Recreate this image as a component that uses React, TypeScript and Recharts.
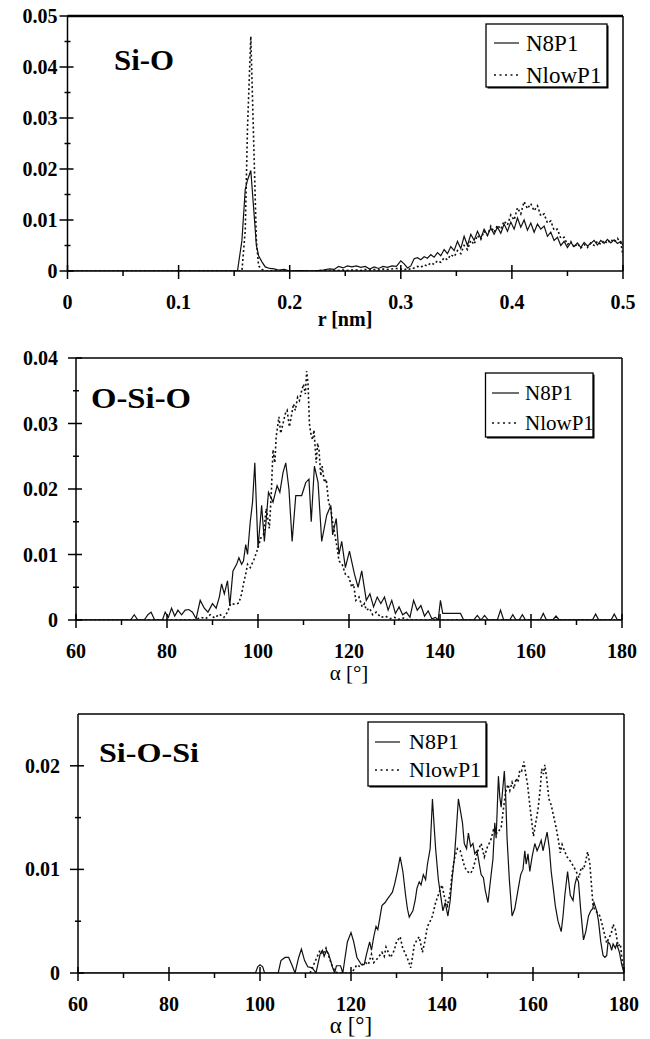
import React from "react";
import { LineChart, Line, XAxis, YAxis, ReferenceLine } from "recharts";

const FONT = '"Liberation Serif"';

// ---------- Si-O (r in nm), both series share the r grid ----------
const SIO_R = [
  0, 0.15, 0.153, 0.157, 0.16, 0.162, 0.165, 0.168, 0.17, 0.172, 0.175, 0.178, 0.182, 0.186, 0.19, 0.195, 0.2,
  0.21, 0.22, 0.23,
  0.236, 0.24, 0.244, 0.248, 0.252, 0.256, 0.26, 0.264, 0.268, 0.272, 0.276, 0.28, 0.284, 0.288, 0.292, 0.296,
  0.3, 0.303, 0.306, 0.309, 0.312, 0.315, 0.318, 0.321, 0.324, 0.327,
  0.33, 0.333, 0.336, 0.339, 0.342, 0.345, 0.348, 0.351, 0.354, 0.357,
  0.36, 0.363, 0.366, 0.369, 0.372, 0.375, 0.378, 0.381, 0.384, 0.387,
  0.39, 0.393, 0.396, 0.399, 0.402, 0.405, 0.408, 0.411, 0.414, 0.417,
  0.42, 0.423, 0.426, 0.429, 0.432, 0.435, 0.438, 0.441, 0.444, 0.447,
  0.45, 0.453, 0.456, 0.459, 0.462, 0.465, 0.468, 0.471, 0.474, 0.477,
  0.48, 0.483, 0.486, 0.489, 0.492, 0.495, 0.498,
  0.5,
];
const SIO_N8P1 = [
  0, 0, 0, 0.006, 0.016, 0.0178, 0.0197, 0.011, 0.005, 0.003, 0.0018, 0.0008, 0.0005, 0.0004, 0.0002, 0.0003, 0,
  0.0001, 0, 0.0002,
  0.0004, 0.0003, 0.0009, 0.0006, 0.001, 0.0008, 0.001, 0.0007, 0.0009, 0.0004, 0.0008, 0.0005, 0.0009, 0.0007, 0.001, 0.0009,
  0.002, 0.0014, 0.0006, 0.001, 0.0024, 0.0026, 0.0022, 0.0028, 0.0025, 0.0032,
  0.0027, 0.0036, 0.003, 0.0042, 0.0034, 0.0048, 0.004, 0.0058, 0.0044, 0.0068,
  0.005, 0.0072, 0.006, 0.0078, 0.0064, 0.0082, 0.007, 0.0084, 0.0072, 0.0086,
  0.0074, 0.0092, 0.0078, 0.0096, 0.0082, 0.0104, 0.0086, 0.01, 0.008, 0.0094,
  0.0076, 0.0092, 0.0082, 0.0088, 0.0068, 0.0076, 0.006, 0.0066, 0.005, 0.0058,
  0.0046, 0.0056, 0.0048, 0.0055, 0.0046, 0.0056, 0.0049, 0.0054, 0.006, 0.0051,
  0.006, 0.0054, 0.0062, 0.0055, 0.0061, 0.0054, 0.0058,
  0.005,
];
const SIO_NLOWP1 = [
  0, 0, 0, 0, 0.008, 0.028, 0.046, 0.022, 0.006, 0.001, 0.0003, 0, 0, 0.0001, 0, 0, 0,
  0, 0, 0.0001,
  0, 0.0001, 0.0001, 0.0002, 0.0001, 0.0002, 0.0002, 0.0001, 0.0003, 0.0002, 0.0003, 0.0002, 0.0004, 0.0003, 0.0004, 0.0005,
  0.0004, 0.0002, 0.0005, 0.0003, 0.0006, 0.0009, 0.0007, 0.0012, 0.001, 0.0016,
  0.0013, 0.002, 0.0017, 0.0026, 0.0022, 0.0032, 0.0028, 0.004, 0.0034, 0.005,
  0.0042, 0.006, 0.0052, 0.007, 0.0062, 0.0078, 0.007, 0.0088, 0.0076, 0.009,
  0.0082, 0.0098, 0.009, 0.011, 0.01, 0.0124, 0.0112, 0.0136, 0.0122, 0.0132,
  0.0118, 0.0128, 0.0108, 0.0112, 0.0094, 0.0098, 0.008, 0.0082, 0.0064, 0.0066,
  0.0052, 0.0058, 0.0046, 0.0054, 0.0045, 0.0052, 0.0046, 0.0055, 0.005, 0.0058,
  0.0052, 0.006, 0.0054, 0.0062, 0.0056, 0.0064, 0.0055,
  0.003,
];
const SIO_X_TICKS = [0, 0.05, 0.1, 0.15, 0.2, 0.25, 0.3, 0.35, 0.4, 0.45, 0.5];
const SIO_Y_TICKS = [0, 0.005, 0.01, 0.015, 0.02, 0.025, 0.03, 0.035, 0.04, 0.045, 0.05];

// ---------- O-Si-O (angle in degrees) ----------
const OSIO_N8P1: [number, number][] = [
  [60, 0], [72, 0], [72.8, 0.0008], [73.6, 0], [75, 0], [75.8, 0.0008], [76.5, 0.0012], [77.3, 0],
  [79, 0], [79.6, 0.0012], [80.3, 0.0004], [81, 0.0018], [81.7, 0.0006], [82.4, 0.0015], [83.2, 0.0008],
  [84, 0.0015], [84.8, 0.0016], [85.6, 0.0012], [86.4, 0.0002], [87.3, 0.003], [88.2, 0.0018], [89, 0.0012],
  [90, 0.0025], [90.8, 0.0018], [91.5, 0.0035], [92, 0.0055], [92.6, 0.004], [93.3, 0.006], [93.8, 0.0022],
  [94.5, 0.0075], [95.3, 0.0085], [95.8, 0.0095], [96.4, 0.0085], [96.8, 0.009], [97.3, 0.0115], [97.7, 0.01],
  [98.3, 0.015], [98.8, 0.018], [99.3, 0.024], [100, 0.011], [100.8, 0.0175], [101.4, 0.012], [102.3, 0.0195],
  [103.3, 0.018], [104.2, 0.0205], [104.8, 0.0195], [105.5, 0.0225], [106.1, 0.024], [106.8, 0.02], [107.5, 0.012],
  [108.3, 0.019], [109.6, 0.019], [110.5, 0.021], [111.2, 0.0215], [111.7, 0.015], [112.4, 0.0235], [113.2, 0.021],
  [114, 0.012], [115.1, 0.016], [116, 0.0175], [116.4, 0.013], [117.2, 0.0155], [117.8, 0.01], [118.4, 0.012],
  [119.2, 0.008], [120.1, 0.0105], [121.2, 0.007], [122, 0.005], [122.8, 0.0075], [123.8, 0.003], [124.6, 0.004],
  [125.4, 0.002], [126.2, 0.0035], [127, 0.0025], [127.8, 0.0035], [128.6, 0.0015], [129.4, 0.003], [130.2, 0.001],
  [131, 0.002], [131.8, 0.0008], [132.6, 0.0012], [133.4, 0.0004], [134.2, 0.003], [135, 0.0015], [135.8, 0.0022],
  [136.6, 0.0006], [137.4, 0.0014], [138.2, 0.0002], [139, 0.0004], [139.6, 0], [140.1, 0.003], [140.6, 0.001],
  [144.5, 0.001], [145.2, 0], [147.4, 0], [148.2, 0.0007], [149, 0], [149.8, 0.0007], [150.6, 0], [152.6, 0],
  [153.3, 0.0015], [154, 0], [155.3, 0], [156, 0.0008], [156.7, 0], [157.4, 0], [158.1, 0.0008], [158.8, 0],
  [162, 0], [162.7, 0.001], [163.4, 0], [164.8, 0], [165.5, 0.0006], [166.2, 0], [173.5, 0], [174.2, 0.0009],
  [174.9, 0], [177.6, 0], [178.3, 0.0009], [179, 0], [180, 0],
];
const OSIO_NLOWP1: [number, number][] = [
  [60, 0], [86, 0], [87.5, 0.0004], [88.5, 0.0002], [89.5, 0.0008], [90.5, 0.0003], [91.5, 0.0009], [92.5, 0.0004],
  [93.3, 0.0012], [94, 0.0025], [95, 0.0024], [95.8, 0.0026], [96.4, 0.004], [96.8, 0.0055], [97.3, 0.007],
  [97.7, 0.0085], [98.3, 0.008], [99.1, 0.0092], [100, 0.011], [100.6, 0.0125], [101.2, 0.013], [101.8, 0.017],
  [102.5, 0.014], [102.9, 0.019], [103.3, 0.026], [103.7, 0.024], [104, 0.028], [104.6, 0.031], [105, 0.0285],
  [105.5, 0.03], [106, 0.0315], [106.4, 0.032], [106.9, 0.0295], [107.3, 0.031], [107.8, 0.033], [108.2, 0.032],
  [108.7, 0.034], [109.1, 0.0335], [109.6, 0.035], [110, 0.036], [110.4, 0.0345], [110.7, 0.038], [111, 0.036],
  [111.3, 0.03], [111.6, 0.0285], [112, 0.0275], [112.3, 0.029], [112.8, 0.024], [113.1, 0.027], [113.4, 0.026],
  [113.8, 0.022], [114.1, 0.0235], [114.6, 0.021], [115, 0.0215], [115.5, 0.018], [116, 0.017], [116.5, 0.0145],
  [116.9, 0.013], [117.4, 0.011], [117.8, 0.009], [118.5, 0.0085], [119.2, 0.007], [120, 0.0065], [120.6, 0.005],
  [121, 0.0055], [121.5, 0.003], [122.2, 0.0035], [122.9, 0.002], [123.4, 0.0025], [123.8, 0.0015], [124.5, 0.0018],
  [125.2, 0.0008], [126, 0.0012], [127, 0.0004], [128, 0.0006], [129, 0.0002], [130, 0.0004], [131, 0.0001],
  [132, 0.0003], [133, 0], [180, 0],
];

// ---------- Si-O-Si (angle in degrees) ----------
const SIOSI_N8P1: [number, number][] = [
  [60, 0], [99, 0], [99.5, 0.0006], [100, 0.0008], [100.6, 0.0006], [101, 0], [104, 0], [104.6, 0.0012],
  [105.5, 0.0015], [106.3, 0.0015], [107, 0.0008], [107.7, 0], [108.5, 0.0015], [109.1, 0.0023], [109.8, 0.0012],
  [110.5, 0.0006], [111.5, 0.0005], [112.3, 0], [113.2, 0.0018], [113.7, 0.0022], [114.1, 0.0016], [114.6, 0.0022],
  [115.1, 0.0018], [115.9, 0.0006], [116.4, 0], [116.8, 0.0007], [117.7, 0.0007], [118.2, 0], [119.2, 0.003],
  [120, 0.0039], [120.6, 0.003], [121.3, 0.0015], [122.3, 0.0008], [122.9, 0.0008], [123.4, 0.0018], [124.1, 0.003],
  [124.5, 0.0022], [125, 0.0035], [125.5, 0.0045], [125.9, 0.0042], [126.8, 0.0065], [127.5, 0.0068], [128.1, 0.0072],
  [128.6, 0.0075], [129.1, 0.0078], [129.6, 0.0086], [130.2, 0.0098], [130.8, 0.0112], [131.4, 0.0098], [132, 0.0075],
  [132.4, 0.0062], [132.8, 0.0054], [133.6, 0.006], [134.1, 0.007], [134.5, 0.0082], [135, 0.0088], [135.4, 0.0085],
  [135.9, 0.0095], [136.4, 0.009], [136.8, 0.0105], [137.4, 0.012], [137.9, 0.0168], [138.3, 0.014], [138.6, 0.012],
  [139.2, 0.009], [139.7, 0.0075], [140.2, 0.006], [140.7, 0.0068], [141.3, 0.0055], [141.8, 0.007], [142.2, 0.009],
  [142.7, 0.011], [143.1, 0.0135], [143.6, 0.0168], [144, 0.0158], [144.5, 0.0145], [144.9, 0.0125], [145.4, 0.012],
  [145.8, 0.0135], [146.3, 0.0122], [146.8, 0.0125], [147.2, 0.0115], [147.7, 0.0118], [148.2, 0.0105],
  [148.6, 0.0095], [149.1, 0.0092], [149.5, 0.008], [150.1, 0.0068], [150.8, 0.0095], [151.2, 0.011],
  [151.6, 0.0145], [151.9, 0.013], [152.4, 0.019], [152.7, 0.017], [153, 0.016], [153.3, 0.0175], [153.7, 0.0195],
  [154, 0.017], [154.3, 0.013], [154.8, 0.009], [155.4, 0.0055], [156, 0.0062], [156.7, 0.008], [157.3, 0.0095],
  [157.8, 0.01], [158.2, 0.0118], [158.5, 0.0105], [158.9, 0.0115], [159.3, 0.0098], [159.8, 0.0112],
  [160.4, 0.0125], [160.9, 0.0118], [161.3, 0.0122], [161.8, 0.0128], [162.2, 0.0118], [162.7, 0.0128],
  [163.1, 0.0136], [163.6, 0.012], [164, 0.0098], [164.5, 0.008], [164.9, 0.0065], [165.5, 0.005], [166.2, 0.004],
  [166.6, 0.0055], [167, 0.0075], [167.6, 0.0098], [168.2, 0.0075], [168.8, 0.007], [169.2, 0.0085],
  [169.6, 0.0092], [170, 0.0088], [170.5, 0.006], [171.1, 0.0032], [171.6, 0.004], [172.2, 0.0055],
  [172.7, 0.006], [173.1, 0.0062], [173.4, 0.0068], [174, 0.006], [174.4, 0.005], [174.9, 0.003], [175.4, 0.0017],
  [175.8, 0.0015], [176.2, 0.0017], [176.5, 0.003], [176.9, 0.0028], [177.3, 0.0022], [177.6, 0.0028],
  [178.1, 0.0024], [178.4, 0.0028], [179, 0.002], [179.5, 0.0008], [180, 0],
];
const SIOSI_NLOWP1: [number, number][] = [
  [111, 0], [111.8, 0.0008], [112.5, 0.0015], [113.2, 0.0022], [113.8, 0.0018], [114.5, 0.0024], [115.2, 0.0015],
  [116, 0.0005], [117, 0], [120, 0], [120.6, 0.0003], [121.3, 0.0008], [122, 0.0006], [122.7, 0.0009],
  [123.2, 0.001], [123.8, 0.0008], [124.5, 0.0018], [125, 0.001], [125.4, 0.0012], [126, 0.0015], [126.8, 0.002],
  [127.3, 0.0016], [127.7, 0.0025], [128.2, 0.002], [128.6, 0.0015], [129.1, 0.0018], [129.5, 0.0022], [130, 0.003],
  [130.8, 0.0035], [131.3, 0.0025], [132, 0.0018], [132.6, 0.0012], [133.1, 0.0005], [133.5, 0.0015],
  [133.9, 0.0027], [134.5, 0.0032], [135, 0.0035], [135.7, 0.002], [136.3, 0.0032], [136.8, 0.0045], [137.4, 0.005],
  [137.9, 0.0055], [138.6, 0.0068], [139.4, 0.0078], [140, 0.0085], [140.6, 0.0072], [141.2, 0.0065],
  [141.8, 0.0078], [142.2, 0.0095], [142.7, 0.011], [143.4, 0.012], [144, 0.0118], [144.5, 0.011], [145, 0.0102],
  [145.6, 0.0098], [146.2, 0.0096], [146.7, 0.0099], [147.3, 0.0108], [147.8, 0.0117], [148.6, 0.0125],
  [149.3, 0.0112], [150, 0.0122], [150.7, 0.0128], [151.3, 0.0138], [152.1, 0.0135], [153, 0.014], [153.4, 0.0155],
  [154, 0.0175], [154.5, 0.0182], [154.9, 0.0176], [155.4, 0.0184], [155.8, 0.0178], [156.3, 0.0188],
  [156.7, 0.0184], [157.1, 0.0196], [157.5, 0.0195], [158, 0.0204], [158.4, 0.0192], [158.8, 0.0182],
  [159.4, 0.0158], [160.1, 0.0132], [160.6, 0.0145], [161.1, 0.0158], [161.6, 0.0178], [161.9, 0.0197],
  [162.3, 0.0192], [162.6, 0.0201], [163, 0.0188], [163.5, 0.0168], [164, 0.0162], [164.5, 0.0152], [165, 0.0142],
  [165.6, 0.0128], [166, 0.0116], [166.4, 0.0124], [166.9, 0.0118], [167.5, 0.0112], [168.2, 0.0108],
  [168.9, 0.0103], [169.5, 0.0098], [170.1, 0.0092], [170.6, 0.0102], [171.1, 0.01], [171.6, 0.0108],
  [172, 0.0117], [172.5, 0.0105], [173.2, 0.0065], [173.7, 0.006], [174.2, 0.0058], [174.7, 0.0055],
  [175.3, 0.0045], [175.8, 0.0036], [176.2, 0.0029], [176.7, 0.0034], [177.2, 0.0038], [177.6, 0.0047],
  [178.1, 0.0042], [178.7, 0.0026], [179.2, 0.0028], [179.6, 0.0012], [180, 0.0003],
];

const ANGLE_TICKS = [60, 70, 80, 90, 100, 110, 120, 130, 140, 150, 160, 170, 180];
const OSIO_Y_TICKS = [0, 0.005, 0.01, 0.015, 0.02, 0.025, 0.03, 0.035, 0.04];
const SIOSI_Y_TICKS = [0, 0.005, 0.01, 0.015, 0.02];

const SERIES = ["N8P1", "NlowP1"];

const toPts = (pairs: [number, number][]) => pairs.map(([x, y]) => ({ x, y }));
const zipPts = (xs: number[], ys: number[]) => xs.map((x, i) => ({ x, y: ys[i] ?? 0 }));

const isMult = (v: number, step: number) => Math.abs(v / step - Math.round(v / step)) < 1e-6;
const fmtNum = (v: number) => (v === 0 ? "0" : String(v));

const boldText = { fontFamily: FONT, fontWeight: 700, fontSize: 20 };

const makeXTick = (step: number) => (props: any) => {
  const { x, y, payload } = props;
  const major = isMult(payload.value, step);
  return (
    <g>
      <line x1={x} x2={x} y1={major ? y - 6 : y} y2={major ? y + 8 : y + 5} stroke="#000" strokeWidth={1.5} />
      {major && (
        <text x={x} y={y + 38} textAnchor="middle" fill="#000" style={boldText}>
          {fmtNum(payload.value)}
        </text>
      )}
    </g>
  );
};

const makeYTick = (step: number, gap: number) => (props: any) => {
  const { x, y, payload } = props;
  const major = isMult(payload.value, step);
  return (
    <g>
      <line x1={major ? x - 8 : x - 3} x2={major ? x + 6 : x + 3} y1={y} y2={y} stroke="#000" strokeWidth={1.5} />
      {major && (
        <text x={x - gap} y={y + 7} textAnchor="end" fill="#000" style={boldText}>
          {fmtNum(payload.value)}
        </text>
      )}
    </g>
  );
};

interface PanelProps {
  top: number;
  height: number;
  margin: { top: number; right: number; left: number; bottom: number };
  xDomain: [number, number];
  yDomain: [number, number];
  xTicks: number[];
  yTicks: number[];
  xStep: number;
  yGap: number;
  solid: { x: number; y: number }[];
  dotted: { x: number; y: number }[];
  topWidth?: number;
}

function Panel(p: PanelProps) {
  return (
    <div style={{ position: "absolute", left: 0, top: p.top, fontFamily: FONT }}>
      <LineChart width={650} height={p.height} margin={p.margin} style={{ fontFamily: FONT }}>
        <XAxis
          type="number"
          dataKey="x"
          domain={p.xDomain}
          ticks={p.xTicks}
          interval={0}
          allowDataOverflow
          height={30}
          tickSize={0}
          tickMargin={0}
          tickLine={false}
          axisLine={{ stroke: "#000", strokeWidth: 1.5 }}
          tick={makeXTick(p.xStep)}
        />
        <YAxis
          type="number"
          domain={p.yDomain}
          ticks={p.yTicks}
          interval={0}
          allowDataOverflow
          width={60}
          tickSize={0}
          tickMargin={0}
          tickLine={false}
          axisLine={{ stroke: "#000", strokeWidth: 1.5 }}
          tick={makeYTick(0.01, p.yGap)}
        />
        <ReferenceLine y={p.yDomain[1]} stroke="#000" strokeWidth={p.topWidth ?? 1.5} />
        <ReferenceLine x={p.xDomain[1]} stroke="#000" strokeWidth={1.5} />
        <Line
          data={p.dotted}
          dataKey="y"
          name={SERIES[1]}
          type="linear"
          stroke="#111"
          strokeWidth={1.6}
          strokeDasharray="2 2.5"
          dot={false}
          activeDot={false}
          isAnimationActive={false}
        />
        <Line
          data={p.solid}
          dataKey="y"
          name={SERIES[0]}
          type="linear"
          stroke="#111"
          strokeWidth={1.2}
          dot={false}
          activeDot={false}
          isAnimationActive={false}
        />
      </LineChart>
    </div>
  );
}

function LegendBox({ x, y, w, h, rows, sample, textX, fontSize }: {
  x: number; y: number; w: number; h: number; rows: [number, number];
  sample: [number, number]; textX: number; fontSize: number;
}) {
  const txt = { fontFamily: FONT, fontSize };
  return (
    <g>
      <rect x={x + 1.5} y={y + 1.5} width={w} height={h} fill="#000" />
      <rect x={x} y={y} width={w} height={h} fill="#fff" stroke="#000" strokeWidth={1.3} />
      <line x1={sample[0]} x2={sample[1]} y1={rows[0]} y2={rows[0]} stroke="#111" strokeWidth={1.2} />
      <line x1={sample[0]} x2={sample[1]} y1={rows[1]} y2={rows[1]} stroke="#111" strokeWidth={1.6} strokeDasharray="2 3.5" />
      <text x={textX} y={rows[0] + fontSize * 0.33} fill="#000" style={txt}>{SERIES[0]}</text>
      <text x={textX} y={rows[1] + fontSize * 0.33} fill="#000" style={txt}>{SERIES[1]}</text>
    </g>
  );
}

export default function App() {
  const title = (size: number) => ({ fontFamily: FONT, fontWeight: 700, fontSize: size });
  return (
    <div style={{ position: "absolute", left: 0, top: 0, width: 650, height: 1039, background: "#fff", fontFamily: FONT }}>
      <Panel
        top={0}
        height={340}
        margin={{ top: 16, right: 27, left: 7.5, bottom: 39 }}
        xDomain={[0, 0.5]}
        yDomain={[0, 0.05]}
        xTicks={SIO_X_TICKS}
        yTicks={SIO_Y_TICKS}
        xStep={0.1}
        yGap={10}
        solid={zipPts(SIO_R, SIO_N8P1)}
        dotted={zipPts(SIO_R, SIO_NLOWP1)}
        topWidth={2.5}
      />
      <Panel
        top={340}
        height={350}
        margin={{ top: 18, right: 28, left: 16, bottom: 40 }}
        xDomain={[60, 180]}
        yDomain={[0, 0.04]}
        xTicks={ANGLE_TICKS}
        yTicks={OSIO_Y_TICKS}
        xStep={20}
        yGap={18}
        solid={toPts(OSIO_N8P1)}
        dotted={toPts(OSIO_NLOWP1)}
      />
      <Panel
        top={690}
        height={349}
        margin={{ top: 24, right: 26, left: 18, bottom: 36 }}
        xDomain={[60, 180]}
        yDomain={[0, 0.025]}
        xTicks={ANGLE_TICKS}
        yTicks={SIOSI_Y_TICKS}
        xStep={20}
        yGap={18}
        solid={toPts(SIOSI_N8P1)}
        dotted={toPts(SIOSI_NLOWP1)}
      />
      <svg width={650} height={1039} style={{ position: "absolute", left: 0, top: 0, pointerEvents: "none" }}>
        <text x={114} y={70} style={title(30)} textLength={60} lengthAdjust="spacingAndGlyphs">Si-O</text>
        <text x={91} y={408} style={title(30)} textLength={100} lengthAdjust="spacingAndGlyphs">O-Si-O</text>
        <text x={99} y={762} style={title(28)} textLength={100} lengthAdjust="spacingAndGlyphs">Si-O-Si</text>

        <text x={345} y={326} textAnchor="middle" style={{ fontFamily: FONT, fontWeight: 700, fontSize: 20 }}>r [nm]</text>
        <text x={349} y={680} textAnchor="middle" style={{ fontFamily: FONT, fontSize: 21 }}>α [°]</text>
        <text x={351} y={1033} textAnchor="middle" style={{ fontFamily: FONT, fontSize: 23 }}>α [°]</text>

        <LegendBox x={486} y={24} w={121} h={63} rows={[43, 75]} sample={[494, 519]} textX={526} fontSize={23} />
        <LegendBox x={485.5} y={373} w={107.5} h={64} rows={[393, 423]} sample={[492, 519]} textX={525} fontSize={21} />
        <LegendBox x={368} y={722} w={118} h={64} rows={[742, 770]} sample={[375, 400]} textX={409} fontSize={22} />
      </svg>
    </div>
  );
}
